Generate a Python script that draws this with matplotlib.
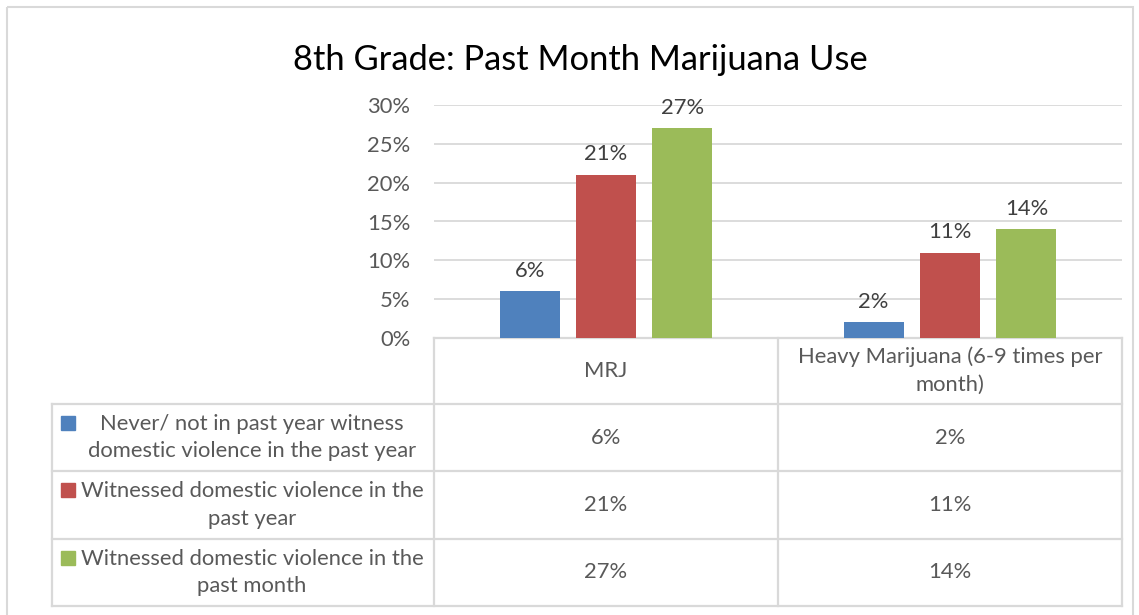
import matplotlib
matplotlib.use("Agg")
import matplotlib.pyplot as plt
from matplotlib.patches import Rectangle

categories = ["MRJ", "Heavy Marijuana (6-9 times per\nmonth)"]
series_names = ["Never/ not in past year witness\ndomestic violence in the past year",
                "Witnessed domestic violence in the\npast year",
                "Witnessed domestic violence in the\npast month"]
never_vals = [0.06, 0.02]
past_year_vals = [0.21, 0.11]
past_month_vals = [0.27, 0.14]
colors = ["#4F81BD", "#C0504D", "#9BBB59"]
yticks = [0, 0.05, 0.10, 0.15, 0.20, 0.25, 0.30]
title = "8th Grade: Past Month Marijuana Use"

W, H = 1139, 615
FONT = "Lato"
TXT = "#595959"
GRID = "#D9D9D9"
FS = 15.8
LS = 1.48
fig = plt.figure(figsize=(W / 100, H / 100), dpi=100)

# overlay in pixel coordinates
ov = fig.add_axes([0, 0, 1, 1])
ov.set_xlim(0, W)
ov.set_ylim(H, 0)
ov.axis("off")
ov.add_patch(Rectangle((7, 7), 1126, 640, fill=False, ec="#D9D9D9", lw=1.5))

# main chart
pl, pr, pt, pb = 434, 1122, 105, 338
ax = fig.add_axes([pl / W, 1 - pb / H, (pr - pl) / W, (pb - pt) / H])
series = [never_vals, past_year_vals, past_month_vals]
off = 0.222
bw = 0.175
for i, vals in enumerate(series):
    xs = [c + (i - 1) * off for c in range(len(categories))]
    ax.bar(xs, vals, width=bw, color=colors[i], zorder=3)
    for x, v in zip(xs, vals):
        ax.text(x, v + 0.0135, f"{v*100:.0f}%", ha="center", va="bottom",
                fontsize=FS, color="#404040", family=FONT)
ax.set_xlim(-0.5, len(categories) - 0.5)
ax.set_ylim(0, 0.30)
ax.set_yticks(yticks)
ax.set_yticklabels([f"{t*100:.0f}%" for t in yticks], family=FONT, fontsize=FS, color=TXT)
ax.tick_params(axis="y", length=0, pad=17)
ax.set_xticks([])
for s in ax.spines.values():
    s.set_visible(False)
ax.grid(axis="y", color=GRID, lw=1.3, zorder=0)
ax.set_facecolor("none")

fig.text(580 / W, 1 - 60 / H, title, ha="center", va="center", fontsize=24.8,
         family=FONT, color="black")

# data table
tl = 52
cols = [pl, (pl + pr) / 2, pr]
rows = [338, 404, 471, 539, 606]
lw = 1.6
ov.plot([tl, tl], [rows[1], rows[-1]], color=GRID, lw=lw)
for c in cols:
    ov.plot([c, c], [rows[0], rows[-1]], color=GRID, lw=lw)
ov.plot([pl, pr], [rows[0], rows[0]], color=GRID, lw=lw)
for r in rows[1:]:
    ov.plot([tl, pr], [r, r], color=GRID, lw=lw)

for j, cat in enumerate(categories):
    cx = (cols[j] + cols[j + 1]) / 2
    ov.text(cx, (rows[0] + rows[1]) / 2, cat, ha="center", va="center",
            fontsize=FS, color=TXT, family=FONT, linespacing=LS)
for i, vals in enumerate(series):
    cy = (rows[i + 1] + rows[i + 2]) / 2
    ov.add_patch(Rectangle((61, cy - 22), 14, 14, color=colors[i]))
    ov.text(252, cy, series_names[i], ha="center", va="center", fontsize=FS,
            color=TXT, family=FONT, linespacing=LS)
    for j, v in enumerate(vals):
        cx = (cols[j] + cols[j + 1]) / 2
        ov.text(cx, cy, f"{v*100:.0f}%", ha="center", va="center", fontsize=FS,
                color=TXT, family=FONT)

fig.savefig("out.png", dpi=100, facecolor="white")
